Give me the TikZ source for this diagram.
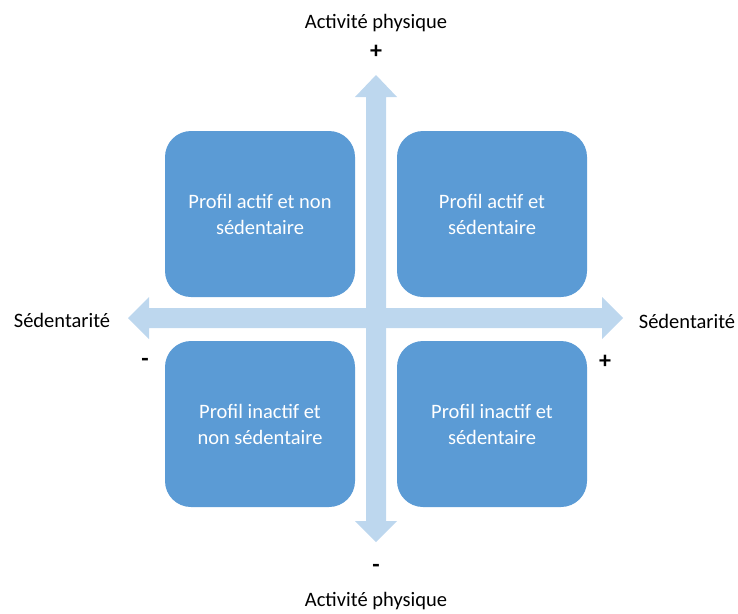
\documentclass[tikz,border=0pt]{standalone}
\usepackage{fontspec}
\setmainfont{Carlito}
\definecolor{boxblue}{HTML}{5B9BD5}
\definecolor{arrowblue}{HTML}{BDD7EE}
\begin{document}
\begin{tikzpicture}[x=1pt,y=-1pt,
  quad/.style={fill=boxblue,draw=none,rounded corners=26pt,minimum width=190pt,minimum height=166pt,
    text=white,align=center,font=\fontsize{20.5}{26}\selectfont,inner sep=0pt},
  lbl/.style={font=\fontsize{20.5}{22}\selectfont,text=black,inner sep=0pt},
  sign/.style={font=\fontsize{24}{24}\selectfont\bfseries,text=black,inner sep=0pt}]
\useasboundingbox (0,0) rectangle (738,613);
% arrow coordinates
\coordinate (vt) at (376,75);
\coordinate (vb) at (376,542);
\coordinate (hl) at (128,318);
\coordinate (hr) at (623,318);
% vertical arrow
\fill[arrowblue] (vt) -- ([xshift=21pt,yshift=-22pt]vt) -- ([xshift=10pt,yshift=-22pt]vt)
  -- ([xshift=10pt,yshift=21pt]vb) -- ([xshift=21pt,yshift=21pt]vb) -- (vb)
  -- ([xshift=-21pt,yshift=21pt]vb) -- ([xshift=-10pt,yshift=21pt]vb)
  -- ([xshift=-10pt,yshift=-22pt]vt) -- ([xshift=-21pt,yshift=-22pt]vt) -- cycle;
% horizontal arrow
\fill[arrowblue] (hl) -- ([xshift=21pt,yshift=-21pt]hl) -- ([xshift=21pt,yshift=-10pt]hl)
  -- ([xshift=-21pt,yshift=-10pt]hr) -- ([xshift=-21pt,yshift=-21pt]hr) -- (hr)
  -- ([xshift=-21pt,yshift=21pt]hr) -- ([xshift=-21pt,yshift=10pt]hr)
  -- ([xshift=21pt,yshift=10pt]hl) -- ([xshift=21pt,yshift=21pt]hl) -- cycle;
% boxes
\node[quad] (tl) at (260,214) {Profil actif et non\\sédentaire};
\node[quad] (tr) at (492,214) {Profil actif et\\sédentaire};
\node[quad] (bl) at (260,424) {Profil inactif et\\non sédentaire};
\node[quad] (br) at (492,424) {Profil inactif et\\sédentaire};
% labels
\node[lbl] (topl) at (376,23) {Activité physique};
\node[sign] (topp) at (376,52) {+};
\node[sign] (botm) at (376,568) {-};
\node[lbl] (botl) at (376,601) {Activité physique};
\node[lbl] (leftl) at (62,320) {Sédentarité};
\node[sign] (leftm) at (145,362) {-};
\node[lbl] (rightl) at (687,321) {Sédentarité};
\node[sign] (rightp) at (605,362) {+};
\end{tikzpicture}
\end{document}
